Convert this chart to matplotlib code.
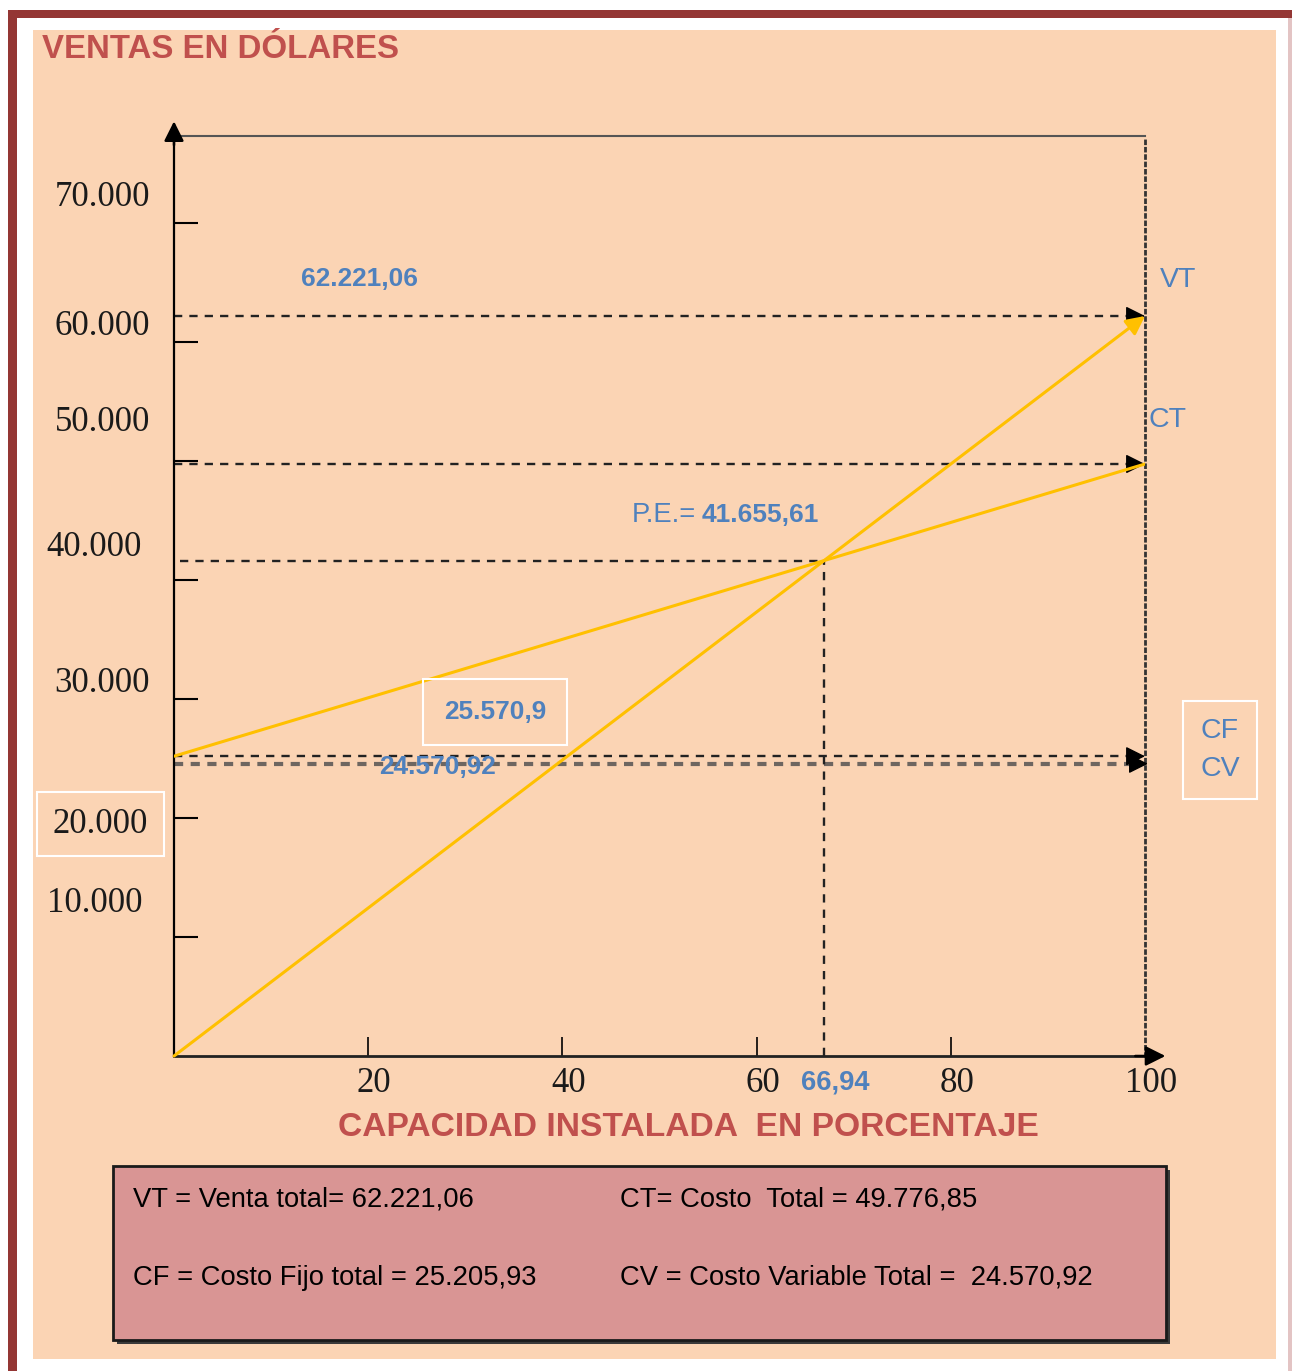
# Punto de equilibrio: ventas y costos vs capacidad instalada.

import matplotlib.pyplot as plt
from matplotlib import font_manager
from matplotlib.patches import Rectangle

# Data.
capacity = [0, 100]
sales = [0, 62221.06]
total_cost = [25205.93, 49776.85]
fixed_cost = 25205.93
variable_cost = 24570.92
break_even_pct = 66.94
break_even_sales = 41655.61

y_ticks = [10000, 20000, 30000, 40000, 50000, 60000, 70000]
y_tick_labels = ['10.000', '20.000', '30.000', '40.000', '50.000', '60.000', '70.000']
x_ticks = [20, 40, 60, 80]
x_tick_labels = ['20', '40', '60', '80', '100']
x_label_values = [20, 40, 60, 80, 100]

legend_rows = [
    ['VT = Venta total= 62.221,06', 'CT= Costo  Total = 49.776,85'],
    ['CF = Costo Fijo total = 25.205,93', 'CV = Costo Variable Total =  24.570,92'],
]

# Colours.
PEACH = '#FBD4B4'
FRAME = '#943634'
RED_TEXT = '#C0504D'
BLUE = '#4F81BD'
GOLD = '#FFC000'
BOX = '#D99594'

# Fonts: a narrow sans if we have one, otherwise shrink a normal one.
names = {f.name for f in font_manager.fontManager.ttflist}
if 'Liberation Sans Narrow' in names:
    SANS, s = 'Liberation Sans Narrow', 1.0
else:
    SANS, s = 'Liberation Sans', 0.82
SERIF = 'Liberation Serif'

W, H = 1292, 1371
fig = plt.figure(figsize=(W / 100, H / 100), dpi=100)
fig.patch.set_facecolor('white')


def fx(x):
    return x / W


def fy(y):
    return 1 - y / H


def fig_rect(x0, y0, x1, y1, **kw):
    fig.patches.append(Rectangle((fx(x0), fy(y1)), fx(x1) - fx(x0), fy(y0) - fy(y1),
                                 transform=fig.transFigure, **kw))


def px(v):
    # pixels -> points
    return v * 0.72


# Page frame and peach panel.
fig_rect(8, 10, 17, H + 5, facecolor=FRAME, lw=0, zorder=-10)
fig_rect(8, 10, W, 18, facecolor=FRAME, lw=0, zorder=-10)
fig_rect(1288, 18, W, H, facecolor='#E3C4C4', lw=0, zorder=-10)
fig_rect(33, 30, 1276, 1359, facecolor=PEACH, lw=0, zorder=-9)

# Plot area.
ax = fig.add_axes([fx(174), fy(1056), (1145 - 174) / W, (1056 - 136) / H])
ax.patch.set_visible(False)
ax.set_xlim(0, 100)
ax.set_ylim(0, sales[1] * 920 / 740)

ax.spines['left'].set_linewidth(1.6)
ax.spines['bottom'].set_linewidth(2)
ax.spines['bottom'].set_color('#222222')
ax.spines['top'].set_color('#555555')
ax.spines['top'].set_linewidth(1.5)
ax.spines['right'].set_linestyle(':')
ax.spines['right'].set_linewidth(2)
ax.spines['right'].set_color('#333333')

ax.set_yticks(y_ticks)
ax.set_xticks(x_ticks)
ax.tick_params(axis='y', direction='in', length=17, width=1.5, labelleft=False)
ax.tick_params(axis='x', direction='in', length=14, width=1.2, labelbottom=False)

# Axis arrows.
arrow = dict(arrowstyle='-|>', color='black', lw=1.8, mutation_scale=30, shrinkA=0, shrinkB=0)
ax.annotate('', xy=(1.021, 0), xycoords='axes fraction', xytext=(0.99, 0),
            arrowprops=arrow, annotation_clip=False)
ax.annotate('', xy=(0, 1.016), xycoords='axes fraction', xytext=(0, 0.99),
            arrowprops=arrow, annotation_clip=False)

# Tick labels, placed loosely like in the original.
y_label_dy = [34, -6, 16, 33, 39, 16, 26]
y_label_dx = [-32, -26, -24, -32, -24, -24, -24]
for v, lab, dx, dy in zip(y_ticks, y_tick_labels, y_label_dx, y_label_dy):
    bbox = None
    if lab == '20.000':
        bbox = dict(boxstyle='square,pad=0.45', facecolor='none', edgecolor='white', lw=1.5)
    ax.annotate(lab, xy=(0, v), xytext=(px(dx), px(dy)), textcoords='offset points',
                ha='right', va='center', fontsize=25, family=SERIF, color='#1a1a1a',
                annotation_clip=False, bbox=bbox)
for v, lab in zip(x_label_values, x_tick_labels):
    ax.annotate(lab, xy=(v, 0), xytext=(px(6), px(-28)), textcoords='offset points',
                ha='center', va='center', fontsize=25, family=SERIF, color='#1a1a1a',
                annotation_clip=False)

# Dashed guide lines with arrow heads.
dash = (0, (3.5, 3))
for v in [sales[1], total_cost[1], fixed_cost]:
    ax.plot([0, 98.5], [v, v], color='#222222', lw=1.7, ls=dash, zorder=2)
    ax.annotate('', xy=(100, v), xytext=(98.2, v), zorder=3,
                arrowprops=dict(arrowstyle='-|>', color='black', lw=1, mutation_scale=30,
                                shrinkA=0, shrinkB=0))
ax.plot([0, 98.5], [variable_cost, variable_cost], color='#6E6660', lw=3,
        ls=(0, (2.2, 1.8)), zorder=2)
ax.annotate('', xy=(100.3, variable_cost), xytext=(98.5, variable_cost), zorder=3,
            arrowprops=dict(arrowstyle='-|>', color='black', lw=1, mutation_scale=30,
                            shrinkA=0, shrinkB=0), annotation_clip=False)
ax.plot([0.6, break_even_pct], [break_even_sales, break_even_sales], color='#222222',
        lw=1.7, ls=dash, zorder=2)
ax.plot([break_even_pct, break_even_pct], [0, break_even_sales], color='#222222',
        lw=1.7, ls=dash, zorder=2)

# Sales and total cost lines.
ax.plot(capacity, total_cost, color=GOLD, lw=2.2, zorder=4)
ax.annotate('', xy=(capacity[1], sales[1]), xytext=(capacity[0], sales[0]), zorder=5,
            arrowprops=dict(arrowstyle='-|>', color=GOLD, lw=2.2, mutation_scale=28,
                            shrinkA=0, shrinkB=0))


# Blue value labels.
def note(text, xy, dx, dy, ha='center', weight='normal', size=23, **kw):
    ax.annotate(text, xy=xy, xytext=(px(dx), px(dy)), textcoords='offset points',
                ha=ha, va='center', color=BLUE, fontsize=size * s, family=SANS,
                fontweight=weight, annotation_clip=False, zorder=6, **kw)


note('62.221,06', (0, sales[1]), 186, 37, weight='bold')
note('VT', (100, sales[1]), 33, 36, size=25)
note('CT', (100, total_cost[1]), 22, 44, size=25)
note('P.E.=', (break_even_pct, break_even_sales), -128, 46, ha='right', size=24)
note('41.655,61', (break_even_pct, break_even_sales), -122, 46, ha='left', weight='bold')
note('25.570,9', (0, fixed_cost), 321, 44, weight='bold',
     bbox=dict(boxstyle='square,pad=0.8', facecolor='none', edgecolor='white', lw=1.5))
note('24.570,92', (0, variable_cost), 264, -3, weight='bold')
note('66,94', (break_even_pct, 0), 11, -27, weight='bold', size=24)
note('CF\nCV', (100, fixed_cost), 75, 6, size=25, linespacing=1.6,
     bbox=dict(boxstyle='square,pad=0.6', facecolor='none', edgecolor='white', lw=1.5))

# Titles.
fig.text(fx(42), fy(50), 'VENTAS EN DÓLARES', ha='left', va='center', color=RED_TEXT,
         fontsize=29 * s, fontweight='bold', family=SANS)
fig.text(fx(688), fy(1127), 'CAPACIDAD INSTALADA  EN PORCENTAJE', ha='center', va='center',
         color=RED_TEXT, fontsize=29.5 * s, fontweight='bold', family=SANS)

# Summary box.
fig_rect(117, 1170, 1170, 1344, facecolor='#3a3a3a', lw=0, zorder=1)
fig_rect(113, 1166, 1166, 1340, facecolor=BOX, edgecolor='#1a1a1a', lw=2, zorder=2)
for row, y in zip(legend_rows, [1200, 1278]):
    for text, x in zip(row, [133, 620]):
        fig.text(fx(x), fy(y), text, ha='left', va='center', fontsize=24 * s,
                 family=SANS, color='black', zorder=3)

fig.savefig('out.png', dpi=100)
